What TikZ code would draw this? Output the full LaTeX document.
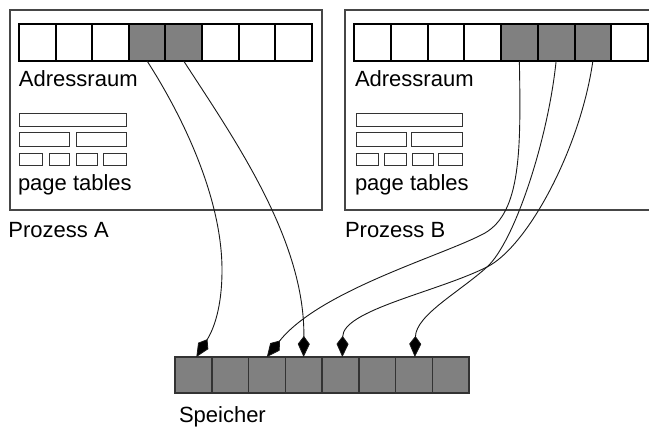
\documentclass[tikz,border=0pt]{standalone}
\usepackage{fontspec}
\setmainfont{Liberation Sans}
\usetikzlibrary{arrows.meta}
\definecolor{cellgray}{RGB}{128,128,128}
\definecolor{framegray}{RGB}{70,70,70}
\begin{document}
\begin{tikzpicture}[x=1pt,y=-1pt,
  cell/.style={draw=black, line width=2pt, minimum width=36.6pt, minimum height=37pt, inner sep=0pt, outer sep=0pt, fill=white},
  usedcell/.style={cell, fill=cellgray},
  memcell/.style={draw=black!80, line width=1.5pt, minimum width=36.75pt, minimum height=36pt, inner sep=0pt, outer sep=0pt, fill=cellgray},
  frame/.style={draw=framegray, line width=1.3pt},
  ptbox/.style={draw=black!80, line width=1pt},
  lbl/.style={anchor=base west, inner sep=0pt, outer sep=0pt, font=\fontsize{22}{25}\selectfont},
  arr/.style={draw=black!90, line width=0.9pt, -{Kite[length=21pt,width=12pt,inset=8pt,fill=black,line width=0.8pt]}}
]
\clip (0,0) rectangle (649,428);
\fill[white] (0,0) rectangle (649,428);
% process frames
\draw[frame] (10,10) rectangle (322,210);
\draw[frame] (345,10) rectangle (658,210);
% address space A
\foreach \i in {1,2,3,6,7,8} \node[cell] (a\i) at ({19+36.6*(\i-0.5)},42.5) {};
\foreach \i in {4,5} \node[usedcell] (a\i) at ({19+36.6*(\i-0.5)},42.5) {};
% address space B
\foreach \i in {1,2,3,4,8} \node[cell,minimum width=36.75pt] (b\i) at ({354+36.75*(\i-0.5)},42.5) {};
\foreach \i in {5,6,7} \node[usedcell,minimum width=36.75pt] (b\i) at ({354+36.75*(\i-0.5)},42.5) {};
% memory
\foreach \i in {1,...,8} \node[memcell] (m\i) at ({175+36.75*(\i-0.5)},375) {};
% page tables A
\draw[ptbox] (19,114) rectangle (126,127);
\draw[ptbox] (19,133) rectangle (69,147);
\draw[ptbox] (76,133) rectangle (126,147);
\draw[ptbox] (19,154) rectangle (42,166);
\draw[ptbox] (49,154) rectangle (69,166);
\draw[ptbox] (76,154) rectangle (97,166);
\draw[ptbox] (103,154) rectangle (126,166);
% page tables B
\draw[ptbox] (356,114) rectangle (462,127);
\draw[ptbox] (356,133) rectangle (406,147);
\draw[ptbox] (411,133) rectangle (462,147);
\draw[ptbox] (356,154) rectangle (378,166);
\draw[ptbox] (384,154) rectangle (406,166);
\draw[ptbox] (412,154) rectangle (433,166);
\draw[ptbox] (438,154) rectangle (462,166);
% labels
\node[lbl] (adrA) at (19,87) {Adressraum};
\node[lbl] (ptA) at (18,190) {page tables};
\node[lbl] (procA) at (8.5,237) {Prozess A};
\node[lbl] (adrB) at (355,87) {Adressraum};
\node[lbl] (ptB) at (355,190) {page tables};
\node[lbl] (procB) at (345,237) {Prozess B};
\node[lbl] (spe) at (179,422) {Speicher};
% mappings
\draw[arr] (a4.south) .. controls (185,120) and (222,200) .. (222,270)
  .. controls (222,315) and (210,335) .. ([xshift=3pt]m1.north);
\draw[arr] (a5.south) .. controls (235,140) and (305,240) .. (m4.north);
\draw[arr] (b5.south) .. controls (521,150) and (521,212) .. (485,233)
  .. controls (445,255) and (320,290) .. (m3.north);
\draw[arr] (b6.south) .. controls (548,140) and (514.5,242) .. (487,267)
  .. controls (459.5,292) and (416,315) .. ([xshift=1pt]m7.north);
\draw[arr] (b7.south) .. controls (580,150) and (527,247) .. (487,267)
  .. controls (437,292) and (343,310) .. ([xshift=2pt]m5.north);
\end{tikzpicture}
\end{document}
